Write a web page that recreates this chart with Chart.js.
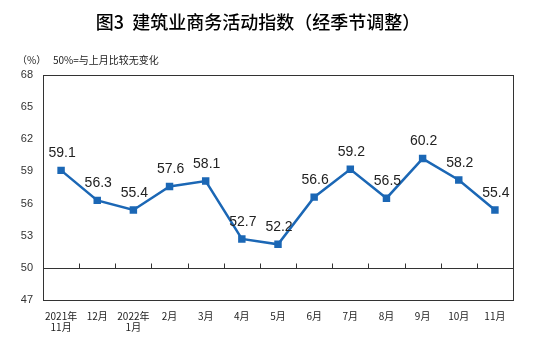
<!DOCTYPE html>
<html>
<head>
<meta charset="utf-8">
<script src="https://cdn.jsdelivr.net/npm/chart.js@4"></script>
<style>
  html, body { margin: 0; padding: 0; background: #fff; }
  #wrap { width: 553px; height: 343px; }
</style>
</head>
<body>
<div id="wrap"><canvas id="pmi"></canvas></div>
<script>
// months along the x axis (two-line labels where the year changes)
const months = [['2021年', '11月'], '12月', ['2022年', '1月'], '2月', '3月', '4月', '5月', '6月', '7月', '8月', '9月', '10月', '11月'];
// construction business activity index, seasonally adjusted
const index_values = [59.1, 56.3, 55.4, 57.6, 58.1, 52.7, 52.2, 56.6, 59.2, 56.5, 60.2, 58.2, 55.4];
// y axis ticks
const y_ticks = [47, 50, 53, 56, 59, 62, 65, 68];
const base_line = 50;

const title_text = '图3  建筑业商务活动指数（经季节调整）';
const unit_text = '（%）';
const note_text = '50%=与上月比较无变化';

const blue = '#1b67b5';
const cjk = '"Noto Sans CJK SC", sans-serif';
const latin = '"Liberation Sans", Arial, sans-serif';

// title, unit and the note above the plot
const header_plugin = {
  id: 'header',
  afterDraw(chart) {
    const ctx = chart.ctx;
    ctx.save();
    ctx.fillStyle = '#000';
    ctx.textBaseline = 'middle';
    ctx.textAlign = 'center';
    ctx.font = '500 18px ' + cjk;
    ctx.fillText(title_text, 258, 22);
    ctx.textAlign = 'left';
    ctx.font = '10px ' + cjk;
    ctx.fillStyle = '#222';
    ctx.fillText(unit_text, 17, 60);
    ctx.fillText(note_text, 53, 60);
    ctx.restore();
  }
};

// the 50 line with small ticks between the months
const base_plugin = {
  id: 'baseline',
  beforeDatasetsDraw(chart) {
    const { ctx, chartArea, scales } = chart;
    const y = Math.round(scales.y.getPixelForValue(base_line)) + 0.5;
    ctx.save();
    ctx.strokeStyle = '#333';
    ctx.lineWidth = 1;
    ctx.beginPath();
    ctx.moveTo(chartArea.left, y);
    ctx.lineTo(chartArea.right, y);
    for (let i = 1; i < months.length; i++) {
      const x = Math.round((scales.x.getPixelForValue(i - 1) + scales.x.getPixelForValue(i)) / 2) + 0.5;
      ctx.moveTo(x, y);
      ctx.lineTo(x, y - 5);
    }
    ctx.stroke();
    ctx.restore();
  }
};

// value labels above each point
const label_plugin = {
  id: 'labels',
  afterDatasetsDraw(chart) {
    const ctx = chart.ctx;
    const meta = chart.getDatasetMeta(0);
    ctx.save();
    ctx.font = '14px ' + latin;
    ctx.fillStyle = '#222';
    ctx.textAlign = 'center';
    ctx.textBaseline = 'middle';
    meta.data.forEach((pt, i) => {
      ctx.fillText(index_values[i].toFixed(1), pt.x + 1, pt.y - 17);
    });
    ctx.restore();
  }
};

// closing the box: top and right border
const box_plugin = {
  id: 'box',
  afterDraw(c) {
    const a = c.chartArea, ctx = c.ctx;
    ctx.save();
    ctx.strokeStyle = '#333';
    ctx.lineWidth = 1;
    ctx.strokeRect(Math.round(a.left) + 0.5, Math.round(a.top) + 0.5, Math.round(a.right - a.left), Math.round(a.bottom - a.top));
    ctx.restore();
  }
};

const chart = new Chart(document.getElementById('pmi'), {
  type: 'line',
  data: {
    labels: months,
    datasets: [{
      data: index_values,
      borderColor: blue,
      backgroundColor: blue,
      borderWidth: 2.5,
      pointStyle: 'rect',
      pointRadius: 3.5,
      pointHoverRadius: 3.5,
      tension: 0
    }]
  },
  options: {
    responsive: true,
    maintainAspectRatio: false,
    animation: false,
    events: [],
    layout: { padding: { top: 75, right: 40, bottom: 0, left: 0 } },
    plugins: {
      legend: { display: false },
      tooltip: { enabled: false }
    },
    scales: {
      x: {
        offset: true,
        grid: { display: false, drawTicks: false },
        border: { display: true, color: '#333', width: 1 },
        ticks: {
          color: '#222',
          font: { family: cjk, size: 10, lineHeight: 1.15 },
          maxRotation: 0,
          autoSkip: false,
          padding: 10
        }
      },
      y: {
        min: 47,
        max: 68,
        afterBuildTicks(axis) {
          axis.ticks = y_ticks.map(v => ({ value: v }));
        },
        afterFit(axis) { axis.width = 43; },
        grid: { display: false, drawTicks: false },
        border: { display: true, color: '#333', width: 1 },
        ticks: {
          color: '#333',
          font: { family: latin, size: 11 },
          padding: 10
        }
      }
    }
  },
  plugins: [header_plugin, base_plugin, label_plugin, box_plugin]
});
</script>
</body>
</html>
